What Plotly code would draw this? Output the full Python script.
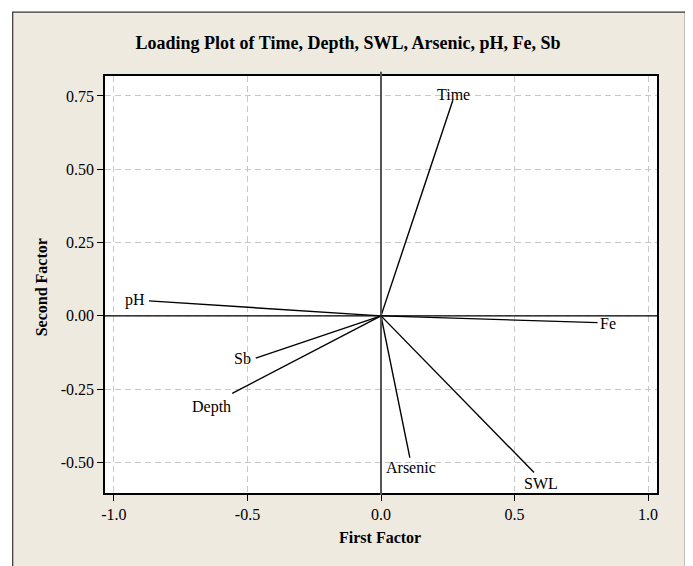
import plotly.graph_objects as go

variables = ["Time", "Depth", "SWL", "Arsenic", "pH", "Fe", "Sb"]
first_factor = [0.269, -0.557, 0.573, 0.108, -0.869, 0.811, -0.469]
second_factor = [0.735, -0.264, -0.534, -0.483, 0.051, -0.023, -0.144]

x_ticks = [-1.0, -0.5, 0.0, 0.5, 1.0]
x_tick_labels = ["-1.0", "-0.5", "0.0", "0.5", "1.0"]
y_ticks = [-0.50, -0.25, 0.00, 0.25, 0.50, 0.75]
y_tick_labels = ["-0.50", "-0.25", "0.00", "0.25", "0.50", "0.75"]

title_text = "Loading Plot of Time, Depth, SWL, Arsenic, pH, Fe, Sb"
x_title = "First Factor"
y_title = "Second Factor"

FONT = "Liberation Serif"
BEIGE = "#EEEAE0"

# label placement: (xanchor, yanchor, xshift, yshift)
label_pos = {
    "Time": ("center", "middle", 1, 6),
    "Depth": ("right", "top", 1, -3),
    "SWL": ("center", "top", 7, -1),
    "Arsenic": ("center", "top", 1, 1),
    "pH": ("right", "middle", -2, 1),
    "Fe": ("left", "middle", 0, -1),
    "Sb": ("right", "middle", -3, 0),
}

# page offset (browser body margin)
OFF = 8
PAGE_W, PAGE_H = 693, 566
W, H = PAGE_W - OFF, PAGE_H - OFF

# desired plot-area edges in page pixels
L_p, R_p, T_p, B_p = 104.7, 657.3, 75.7, 493.3
L, R, T, B = L_p - OFF, R_p - OFF, T_p - OFF, B_p - OFF
pw, ph = R - L, B - T

def px_x(page_px):
    return (page_px - OFF - L) / pw

def px_y(page_py):
    return (B - (page_py - OFF)) / ph

fig = go.Figure()
for name, fx, fy in zip(variables, first_factor, second_factor):
    fig.add_trace(go.Scatter(x=[0, fx], y=[0, fy], mode="lines",
                             line=dict(color="black", width=1.4),
                             hoverinfo="skip", showlegend=False))

annotations = []
for name, fx, fy in zip(variables, first_factor, second_factor):
    xa, ya, xs, ys = label_pos[name]
    annotations.append(dict(x=fx, y=fy, xref="x", yref="y", text=name, showarrow=False,
                            xanchor=xa, yanchor=ya, xshift=xs, yshift=ys,
                            font=dict(family=FONT, size=16, color="black")))

annotations.append(dict(x=px_x(380), y=px_y(538), xref="paper", yref="paper", text="<b>" + x_title + "</b>",
                        showarrow=False, xanchor="center", yanchor="middle",
                        font=dict(family=FONT, size=16, color="black")))
annotations.append(dict(x=px_x(42), y=px_y(287), xref="paper", yref="paper", text="<b>" + y_title + "</b>",
                        showarrow=False, xanchor="center", yanchor="middle", textangle=-90,
                        font=dict(family=FONT, size=16, color="black")))

shapes = [
    # white outer margins
    dict(type="rect", xref="paper", yref="paper", x0=px_x(-20), x1=px_x(PAGE_W + 20), y0=px_y(12), y1=px_y(-20),
         fillcolor="white", line=dict(width=0), layer="below"),
    dict(type="rect", xref="paper", yref="paper", x0=px_x(-20), x1=px_x(12), y0=px_y(PAGE_H + 20), y1=px_y(-20),
         fillcolor="white", line=dict(width=0), layer="below"),
    dict(type="rect", xref="paper", yref="paper", x0=px_x(686), x1=px_x(PAGE_W + 20), y0=px_y(PAGE_H + 20), y1=px_y(-20),
         fillcolor="white", line=dict(width=0), layer="below"),
    # outer frame
    dict(type="rect", xref="paper", yref="paper", x0=px_x(12.3), x1=px_x(685.7), y0=px_y(PAGE_H + 10), y1=px_y(11.7),
         fillcolor="rgba(0,0,0,0)", line=dict(color="#333333", width=1.2), layer="below"),
    # reference lines
    dict(type="line", xref="x", yref="paper", x0=0, x1=0, y0=-0.005, y1=1.01,
         line=dict(color="#555555", width=2)),
    dict(type="line", xref="paper", yref="y", x0=0, x1=1, y0=0, y1=0,
         line=dict(color="black", width=1.4)),
]

fig.update_layout(
    width=W, height=H,
    margin=dict(l=L, r=W - R, t=T, b=H - B, pad=0),
    paper_bgcolor=BEIGE,
    plot_bgcolor="white",
    title=dict(text="<b>" + title_text + "</b>", x=(348 - OFF) / W, xref="container", xanchor="center",
               y=1 - (43 - OFF) / H, yref="container", yanchor="middle",
               font=dict(family=FONT, size=18, color="black")),
    annotations=annotations,
    shapes=shapes,
    showlegend=False,
)

axis_common = dict(showline=True, mirror=True, linecolor="black", linewidth=1.5,
                   ticks="outside", ticklen=6, tickcolor="black", tickwidth=1,
                   showgrid=True, gridcolor="#C8C8C8", gridwidth=1, griddash="6px,4px",
                   zeroline=False,
                   tickfont=dict(family=FONT, size=16, color="black"))

fig.update_xaxes(range=[-1.0335, 1.0335], tickvals=x_ticks, ticktext=x_tick_labels, **axis_common)
fig.update_yaxes(range=[-0.604, 0.818], tickvals=y_ticks, ticktext=y_tick_labels, **axis_common)

fig.write_html("out.html")
